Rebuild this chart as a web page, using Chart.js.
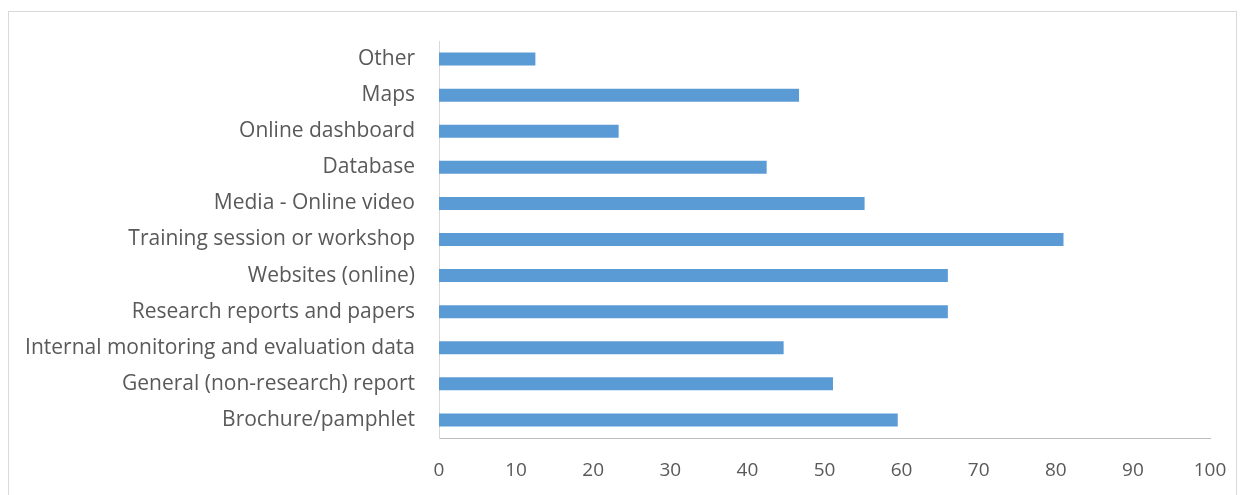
<!DOCTYPE html>
<html>
<head>
<meta charset="utf-8">
<script src="https://cdn.jsdelivr.net/npm/chart.js@4.4.1/dist/chart.umd.min.js"></script>
<style>
  html, body { margin: 0; padding: 0; background: #fff; }
  #wrap { position: relative; width: 1243px; height: 495px; overflow: hidden; }
  #frame { position: absolute; left: 8px; top: 11px; width: 1227px; height: 520px; border: 1px solid #d9d9d9; }
  canvas { position: absolute; left: 0; top: 0; }
</style>
</head>
<body>
<div id="wrap">
  <div id="frame"></div>
  <canvas id="chart" width="1243" height="495"></canvas>
</div>
<script>
// catégories, de haut en bas
const categories = [
  'Other',
  'Maps',
  'Online dashboard',
  'Database',
  'Media - Online video',
  'Training session or workshop',
  'Websites (online)',
  'Research reports and papers',
  'Internal monitoring and evaluation data',
  'General (non-research) report',
  'Brochure/pamphlet'
];
const values = [12.5, 46.7, 23.3, 42.5, 55.2, 81, 66, 66, 44.7, 51.1, 59.5];
const xTicks = [0, 10, 20, 30, 40, 50, 60, 70, 80, 90, 100];

const textColor = '#595959';
const fontFamily = "'Open Sans', 'Noto Sans', sans-serif";

const ctx = document.getElementById('chart').getContext('2d');
new Chart(ctx, {
  type: 'bar',
  data: {
    labels: categories,
    datasets: [{
      data: values,
      backgroundColor: '#5B9BD5',
      borderWidth: 0,
      categoryPercentage: 0.36,
      barPercentage: 1
    }]
  },
  options: {
    indexAxis: 'y',
    responsive: false,
    animation: false,
    layout: { padding: { top: 41, right: 33, left: 0, bottom: 0 } },
    plugins: {
      legend: { display: false },
      tooltip: { enabled: false }
    },
    scales: {
      x: {
        min: 0,
        max: 100,
        afterBuildTicks: (scale) => { scale.ticks = xTicks.map(v => ({ value: v })); },
        afterFit: (scale) => { scale.height = 57; scale.paddingRight = 0; scale.paddingLeft = 0; },
        grid: { display: false, drawTicks: false },
        border: { display: true, color: '#bfbfbf', width: 1 },
        ticks: { color: textColor, padding: 21, font: { family: fontFamily, size: 19 } }
      },
      y: {
        afterFit: (scale) => { scale.width = 439; },
        grid: { display: false, drawTicks: false },
        border: { display: true, color: '#d9d9d9', width: 1 },
        ticks: { color: textColor, padding: 24, autoSkip: false, font: { family: fontFamily, size: 21 } }
      }
    }
  }
});
</script>
</body>
</html>
